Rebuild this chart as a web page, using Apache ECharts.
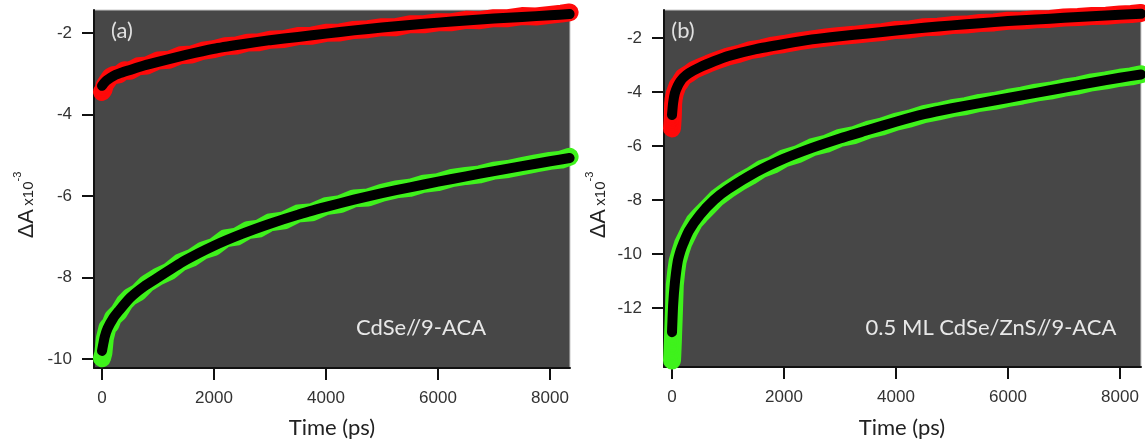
<!DOCTYPE html>
<html>
<head>
<meta charset="utf-8">
<script src="https://cdn.jsdelivr.net/npm/echarts@6/dist/echarts.min.js"></script>
<style>
html,body{margin:0;padding:0;background:#fff;}
#c{width:1145px;height:443px;}
</style>
</head>
<body>
<div id="c"></div>
<script>
// ---- tick labels ----
var xTicks = [0, 2000, 4000, 6000, 8000];
var yTicksA = [-10, -8, -6, -4, -2];
var yTicksB = [-12, -10, -8, -6, -4, -2];

// ---- panel (a) data ----
var timeDataA = [0, 25, 50, 100, 150, 200, 300, 400, 500, 650, 800, 1000, 1200, 1400, 1600, 1800, 2000, 2200, 2400, 2600, 2800, 3000, 3250, 3500, 3750, 4000, 4250, 4500, 4750, 5000, 5250, 5500, 5750, 6000, 6250, 6500, 6750, 7000, 7250, 7500, 7750, 8000, 8200, 8350];
var redDataA = [-3.45, -3.40, -3.28, -3.18, -3.08, -3.04, -3.02, -2.92, -2.93, -2.82, -2.80, -2.68, -2.66, -2.55, -2.53, -2.44, -2.40, -2.33, -2.31, -2.24, -2.23, -2.17, -2.15, -2.08, -2.07, -2.00, -1.99, -1.93, -1.91, -1.86, -1.86, -1.79, -1.79, -1.74, -1.74, -1.68, -1.69, -1.64, -1.64, -1.59, -1.60, -1.56, -1.53, -1.50];
var greenDataA = [-9.98, -9.85, -9.50, -9.22, -9.15, -8.98, -8.85, -8.62, -8.48, -8.36, -8.15, -7.98, -7.85, -7.63, -7.52, -7.34, -7.25, -7.04, -7.00, -6.84, -6.80, -6.65, -6.60, -6.43, -6.40, -6.25, -6.20, -6.06, -6.04, -5.92, -5.84, -5.80, -5.70, -5.66, -5.56, -5.51, -5.47, -5.38, -5.34, -5.27, -5.20, -5.14, -5.11, -5.04];
var timeFitA = [0, 20, 50, 100, 200, 300, 500, 750, 1000, 1500, 2000, 2500, 3000, 3500, 4000, 4500, 5000, 5500, 6000, 6500, 7000, 7500, 8000, 8350];
var redFitA = [-3.30, -3.26, -3.21, -3.15, -3.06, -3.00, -2.91, -2.80, -2.71, -2.54, -2.39, -2.28, -2.18, -2.10, -2.02, -1.94, -1.87, -1.81, -1.75, -1.70, -1.65, -1.61, -1.57, -1.54];
var greenFitA = [-9.80, -9.65, -9.45, -9.25, -9.00, -8.82, -8.50, -8.22, -8.00, -7.57, -7.22, -6.93, -6.68, -6.46, -6.27, -6.09, -5.93, -5.79, -5.65, -5.52, -5.39, -5.27, -5.15, -5.07];

// ---- panel (b) data ----
var timeDataB = [0, 5, 10, 15, 20, 30, 50, 75, 100, 150, 200, 300, 400, 500, 650, 800, 1000, 1200, 1400, 1600, 1800, 2000, 2250, 2500, 2750, 3000, 3250, 3500, 3750, 4000, 4250, 4500, 4750, 5000, 5250, 5500, 5750, 6000, 6250, 6500, 6750, 7000, 7250, 7500, 7750, 8000, 8200, 8375];
var redDataB = [-5.35, -5.20, -5.05, -4.85, -4.45, -4.25, -4.05, -3.90, -3.76, -3.62, -3.45, -3.32, -3.17, -3.08, -2.95, -2.83, -2.68, -2.58, -2.45, -2.38, -2.28, -2.22, -2.12, -2.05, -1.98, -1.92, -1.88, -1.82, -1.78, -1.70, -1.68, -1.60, -1.58, -1.52, -1.50, -1.44, -1.42, -1.36, -1.35, -1.30, -1.29, -1.24, -1.22, -1.18, -1.17, -1.13, -1.11, -1.07];
var greenDataB = [-13.95, -13.75, -13.50, -13.25, -12.95, -12.40, -11.15, -10.65, -10.28, -9.92, -9.60, -9.18, -8.80, -8.57, -8.25, -7.93, -7.62, -7.35, -7.12, -6.85, -6.70, -6.46, -6.30, -6.05, -5.92, -5.70, -5.60, -5.40, -5.28, -5.10, -4.98, -4.82, -4.72, -4.60, -4.52, -4.40, -4.33, -4.22, -4.13, -4.02, -3.95, -3.84, -3.76, -3.64, -3.57, -3.47, -3.42, -3.34];
var timeFitB = [0, 20, 50, 100, 150, 200, 300, 500, 750, 1000, 1500, 2000, 2500, 3000, 3500, 4000, 4500, 5000, 5500, 6000, 6500, 7000, 7500, 8000, 8375];
var redFitB = [-4.85, -4.40, -4.05, -3.78, -3.60, -3.47, -3.30, -3.08, -2.86, -2.67, -2.41, -2.22, -2.05, -1.93, -1.83, -1.72, -1.62, -1.53, -1.45, -1.37, -1.31, -1.25, -1.19, -1.14, -1.10];
var greenFitB = [-12.90, -11.90, -11.10, -10.30, -9.90, -9.62, -9.15, -8.55, -8.00, -7.60, -6.97, -6.47, -6.07, -5.72, -5.41, -5.10, -4.82, -4.60, -4.41, -4.22, -4.03, -3.84, -3.65, -3.47, -3.35];

var labelA = 'CdSe//9-ACA';
var labelB = '0.5 ML CdSe/ZnS//9-ACA';

function pairs(t, v) { return t.map(function (x, i) { return [x, v[i]]; }); }

var RED = '#ff0a0a', GREEN = '#3ff21c', BG = '#474747';

function dataSeries(xi, t, v, col) {
  return {
    type: 'line', xAxisIndex: xi, yAxisIndex: xi, data: pairs(t, v),
    symbol: 'circle', symbolSize: 10, showSymbol: true,
    itemStyle: { color: 'rgba(0,0,0,0)', borderColor: col, borderWidth: 2 },
    lineStyle: { color: col, width: 18, cap: 'round', join: 'round' },
    silent: true, animation: false, z: 2
  };
}
function fitSeries(xi, t, v) {
  return {
    type: 'line', xAxisIndex: xi, yAxisIndex: xi, data: pairs(t, v),
    symbol: 'none', smooth: 0.2,
    lineStyle: { color: '#000', width: 10, cap: 'round', join: 'round' },
    silent: true, animation: false, z: 3
  };
}
var labelStyle = { margin: 22, color: '#333', fontSize: 17, fontFamily: 'Liberation Sans, Arial, sans-serif',
  formatter: function (v) { return String(v); } };

function xAxis(gi, min, max) {
  return {
    type: 'value', gridIndex: gi, min: min, max: max,
    axisLine: { show: true, onZero: false, lineStyle: { color: '#111', width: 2 } },
    axisTick: { show: true, length: 12, customValues: xTicks, lineStyle: { color: '#111', width: 2 } },
    axisLabel: Object.assign({ customValues: xTicks }, labelStyle),
    splitLine: { show: false }
  };
}
function yAxis(gi, min, max, ticks) {
  return {
    type: 'value', gridIndex: gi, min: min, max: max,
    axisLine: { show: true, onZero: false, lineStyle: { color: '#111', width: 2 } },
    axisTick: { show: true, length: 12, customValues: ticks, lineStyle: { color: '#111', width: 2 } },
    axisLabel: Object.assign({ customValues: ticks }, labelStyle),
    splitLine: { show: false }
  };
}

function yTitle(x, y) {
  return {
    type: 'text', x: x, y: y, rotation: Math.PI / 2,
    style: {
      text: '{a|ΔA} {b|x10}{c|-3}',
      align: 'center', verticalAlign: 'middle',
      rich: {
        a: { fontSize: 22, fontFamily: 'Liberation Sans, Arial', fill: '#222', lineHeight: 26, verticalAlign: 'bottom' },
        b: { fontSize: 15, fontFamily: 'Liberation Sans, Arial', fill: '#222', lineHeight: 26, verticalAlign: 'bottom', padding: [0, 0, 2, 0] },
        c: { fontSize: 11, fontFamily: 'Liberation Sans, Arial', fill: '#222', lineHeight: 26, verticalAlign: 'top' }
      }
    }
  };
}
function txt(x, y, s, size, col, align) {
  return { type: 'text', x: x, y: y, z: 10,
    style: { text: s, fontSize: size, fontFamily: 'Lato, Open Sans, sans-serif', fill: col, align: align || 'center', verticalAlign: 'middle' } };
}

var chart = echarts.init(document.getElementById('c'), null, { renderer: 'canvas' });
chart.setOption({
  animation: false,
  backgroundColor: '#ffffff',
  grid: [
    { left: 94, top: 10, width: 476, height: 358, show: true, backgroundColor: BG, borderColor: '#c8c8c8', borderWidth: 1 },
    { left: 664, top: 10, width: 477, height: 357, show: true, backgroundColor: BG, borderColor: '#c8c8c8', borderWidth: 1 }
  ],
  xAxis: [xAxis(0, -143, 8357), xAxis(1, -143, 8375)],
  yAxis: [yAxis(0, -10.22, -1.44, yTicksA), yAxis(1, -14.19, -0.96, yTicksB)],
  series: [
    dataSeries(0, timeDataA, redDataA, RED),
    dataSeries(0, timeDataA, greenDataA, GREEN),
    fitSeries(0, timeFitA, redFitA),
    fitSeries(0, timeFitA, greenFitA),
    dataSeries(1, timeDataB, redDataB, RED),
    dataSeries(1, timeDataB, greenDataB, GREEN),
    fitSeries(1, timeFitB, redFitB),
    fitSeries(1, timeFitB, greenFitB)
  ],
  graphic: [
    yTitle(25, 205),
    yTitle(597, 205),
    txt(122, 31, '(a)', 22, '#e0e0e0'),
    txt(683, 31, '(b)', 22, '#e0e0e0'),
    txt(421, 328, labelA, 22, '#e8e8e8'),
    txt(991, 328, labelB, 22, '#e8e8e8'),
    txt(332, 428, 'Time (ps)', 22, '#222'),
    txt(902, 428, 'Time (ps)', 22, '#222')
  ]
});
</script>
</body>
</html>
